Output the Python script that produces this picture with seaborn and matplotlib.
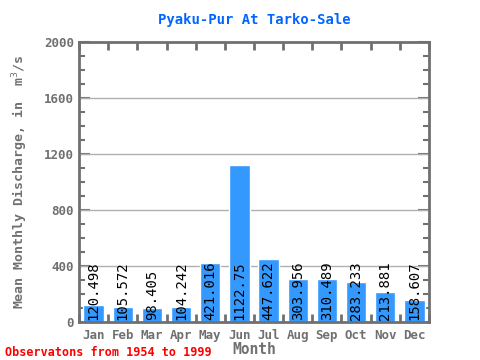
import numpy as np
import pandas as pd
import matplotlib
matplotlib.use("Agg")
import matplotlib.pyplot as plt
import seaborn as sns
from matplotlib.ticker import MultipleLocator

months = ['Jan', 'Feb', 'Mar', 'Apr', 'May', 'Jun', 'Jul', 'Aug', 'Sep', 'Oct', 'Nov', 'Dec']
discharge = [120.498, 105.572, 98.405, 104.242, 421.016, 1122.75, 447.622,
             303.956, 310.489, 283.233, 213.881, 158.607]
value_labels = ['120.498', '105.572', '98.405', '104.242', '421.016', '1122.75', '447.622',
                '303.956', '310.489', '283.233', '213.881', '158.607']

df = pd.DataFrame({'Month': months, 'Discharge': discharge})

sns.set_style('white')
plt.rcParams['font.family'] = ['DejaVu Sans Mono', 'DejaVu Sans']

grey = '#707070'
fig = plt.figure(figsize=(4.8, 3.6), dpi=100)
ax = fig.add_axes([79 / 480, 1 - 322 / 360, 350 / 480, 280 / 360])

sns.barplot(data=df, x='Month', y='Discharge', color='#3399ff', saturation=1,
            width=0.7, ax=ax, zorder=2)

for i, (v, lab) in enumerate(zip(discharge, value_labels)):
    ax.text(i, 15, lab, rotation=90, ha='center', va='bottom',
            fontsize=10, color='black', zorder=3)

ax.set_ylim(0, 2000)
ax.set_xlim(-0.5, 11.5)
ax.yaxis.set_major_locator(MultipleLocator(400))
ax.yaxis.set_minor_locator(MultipleLocator(100))
ax.set_xticks(np.arange(-0.5, 12, 1), minor=True)
ax.set_xticks(range(12))
ax.set_xticklabels(months)

for y in [400, 800, 1200, 1600]:
    ax.axhline(y, color='#b0b0b0', lw=1, zorder=1)

for s in ax.spines.values():
    s.set_color(grey)
    s.set_linewidth(2)

ax.tick_params(axis='x', which='major', length=0, labelsize=9, colors=grey, pad=5)
ax.tick_params(axis='x', which='minor', length=6, width=2, color=grey, top=True, bottom=True, direction='in')
ax.tick_params(axis='y', which='major', length=8, width=1.5, color=grey, left=True, right=True,
               direction='in', labelsize=9, labelcolor=grey)
ax.tick_params(axis='y', which='minor', length=4, width=1.5, color=grey, left=True, right=True,
               direction='in')
for t in ax.get_xticklabels() + ax.get_yticklabels():
    t.set_fontweight('bold')

ax.set_xlabel('Month', fontsize=10.5, color=grey, fontweight='bold', labelpad=0)
ax.set_ylabel('Mean Monthly Discharge, in  m$^{3}$/s', fontsize=9.5, color=grey,
              fontweight='bold', labelpad=10)
ax.set_title('Pyaku-Pur At Tarko-Sale', fontsize=10, color='#0066ff',
             fontweight='bold', pad=13)

fig.text(5 / 480, 1 - 352 / 360, 'Observatons from 1954 to 1999', color='red',
         fontsize=8.5, fontweight='bold', va='center', ha='left')

fig.savefig('out.png', dpi=100)
